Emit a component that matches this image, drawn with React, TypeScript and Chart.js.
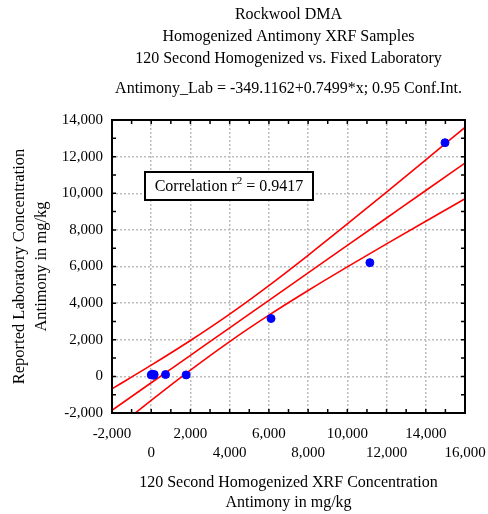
import React, { useEffect, useRef } from "react";
import { Chart, registerables } from "chart.js";

Chart.register(...registerables);

const titleLines = [
  "Rockwool DMA",
  "Homogenized Antimony XRF Samples",
  "120 Second Homogenized vs. Fixed Laboratory",
];
const subtitleText = "Antimony_Lab = -349.1162+0.7499*x; 0.95 Conf.Int.";
const xTitleLines = ["120 Second Homogenized XRF Concentration", "Antimony in mg/kg"];
const yTitleLines = ["Reported Laboratory Concentration", "Antimony in mg/kg"];
const correlationValue = "0.9417";

const sampleX = [0, 50, 120, 150, 730, 1780, 6110, 11150, 14980];
const sampleY = [80, 120, 60, 100, 100, 80, 3160, 6210, 12760];

const fitX = [-2000, 0, 2000, 4000, 6000, 8000, 10000, 12000, 14000, 16000];
const fitY = [-1849, -349, 1151, 2651, 4150, 5650, 7150, 8650, 10150, 11649];
const upperY = [-678, 611, 1959, 3401, 4958, 6610, 8321, 10065, 11827, 13599];
const lowerY = [-3020, -1309, 343, 1901, 3342, 4690, 5979, 7235, 8473, 9699];

const xTickValues = [-2000, 0, 2000, 4000, 6000, 8000, 10000, 12000, 14000, 16000];
const yTickValues = [-2000, 0, 2000, 4000, 6000, 8000, 10000, 12000, 14000];

const FONT = '"Liberation Serif", "Times New Roman", serif';
const FS = 15;
const TFS = 16;

const fmt = (v: number) => v.toLocaleString("en-US");

const decorPlugin = {
  id: "decor",
  afterDraw(chart: any) {
    const ctx = chart.ctx;
    const { left, right, top, bottom } = chart.chartArea;
    const xs = chart.scales.x;
    const ys = chart.scales.y;
    ctx.save();
    // border
    ctx.strokeStyle = "#000";
    ctx.lineWidth = 2;
    ctx.strokeRect(left, top, right - left, bottom - top);
    // inner ticks every 1000
    ctx.lineWidth = 1.5;
    ctx.beginPath();
    for (let v = -2000; v <= 16000; v += 1000) {
      const px = xs.getPixelForValue(v);
      ctx.moveTo(px, bottom);
      ctx.lineTo(px, bottom - 4);
      ctx.moveTo(px, top);
      ctx.lineTo(px, top + 4);
    }
    for (let v = -2000; v <= 14000; v += 1000) {
      const py = ys.getPixelForValue(v);
      ctx.moveTo(left, py);
      ctx.lineTo(left + 4, py);
      ctx.moveTo(right, py);
      ctx.lineTo(right - 4, py);
    }
    ctx.stroke();

    // titles
    ctx.fillStyle = "#000";
    ctx.font = `${TFS}px ${FONT}`;
    ctx.textAlign = "center";
    ctx.textBaseline = "middle";
    const cx = (left + right) / 2;
    const tY = [15, 37, 59];
    titleLines.forEach((t, i) => ctx.fillText(t, cx, tY[i]));
    ctx.fillText(subtitleText, cx, 89);

    // x title
    ctx.fillText(xTitleLines[0], cx, 483);
    ctx.fillText(xTitleLines[1], cx, 503);

    // y title
    ctx.font = `16.5px ${FONT}`;
    const cy = (top + bottom) / 2;
    ctx.save();
    ctx.translate(20, cy);
    ctx.rotate(-Math.PI / 2);
    ctx.fillText(yTitleLines[0], 0, 0);
    ctx.restore();
    ctx.save();
    ctx.translate(42, cy);
    ctx.rotate(-Math.PI / 2);
    ctx.fillText(yTitleLines[1], 0, 0);
    ctx.restore();

    // correlation box
    const bx = left + 33;
    const by = top + 52;
    const bw = 168;
    const bh = 28;
    ctx.fillStyle = "#fff";
    ctx.fillRect(bx, by, bw, bh);
    ctx.strokeStyle = "#000";
    ctx.lineWidth = 2;
    ctx.strokeRect(bx, by, bw, bh);
    ctx.fillStyle = "#000";
    ctx.textAlign = "left";
    const part1 = "Correlation r";
    const part3 = " = " + correlationValue;
    ctx.font = `${TFS}px ${FONT}`;
    const w1 = ctx.measureText(part1).width;
    ctx.font = `${11}px ${FONT}`;
    const w2 = ctx.measureText("2").width;
    ctx.font = `${TFS}px ${FONT}`;
    const w3 = ctx.measureText(part3).width;
    let tx = bx + (bw - (w1 + w2 + w3)) / 2;
    const ty = by + bh / 2 + 1;
    ctx.fillText(part1, tx, ty);
    tx += w1;
    ctx.font = `${11}px ${FONT}`;
    ctx.fillText("2", tx, ty - 6);
    tx += w2;
    ctx.font = `${TFS}px ${FONT}`;
    ctx.fillText(part3, tx, ty);
    ctx.restore();
  },
};

export default function App() {
  const ref = useRef<HTMLCanvasElement | null>(null);
  useEffect(() => {
    if (!ref.current) return;
    const lineDs = (ys: number[]) => ({
      type: "line" as const,
      data: fitX.map((x, i) => ({ x, y: ys[i] })),
      borderColor: "#ff0000",
      borderWidth: 1.6,
      pointRadius: 0,
      showLine: true,
      fill: false,
      cubicInterpolationMode: "monotone",
      order: 2,
    });
    const chart = new Chart(ref.current, {
      type: "scatter",
      data: {
        datasets: [
          {
            type: "scatter" as const,
            data: sampleX.map((x, i) => ({ x, y: sampleY[i] })),
            backgroundColor: "#0000ff",
            borderColor: "#0000ff",
            pointRadius: 4,
            order: 1,
          } as any,
          lineDs(upperY),
          lineDs(fitY),
          lineDs(lowerY),
        ],
      },
      options: {
        responsive: false,
        animation: false,
        devicePixelRatio: 1,
        layout: { padding: { left: 0, top: 120, right: 23, bottom: 0 } },
        plugins: {
          legend: { display: false },
          tooltip: { enabled: false },
          title: { display: false },
        },
        scales: {
          x: {
            type: "linear",
            min: -2000,
            max: 16000,
            afterBuildTicks: (s: any) => {
              s.ticks = xTickValues.map((v) => ({ value: v }));
            },
            afterFit: (s: any) => {
              s.height = 101;
              s.paddingLeft = 0;
              s.paddingRight = 0;
            },
            grid: {
              color: "#bdbdbd",
              lineWidth: 1.5,
              drawTicks: false,
            },
            border: { display: false, dash: [2, 2] },
            ticks: {
              padding: 12,
              color: "#000",
              maxRotation: 0,
              autoSkip: false,
              font: { family: FONT, size: FS, lineHeight: 1.25 },
              callback: (v: any) => {
                const idx = xTickValues.indexOf(v);
                return idx % 2 === 0 ? [fmt(v), ""] : ["", fmt(v)];
              },
            },
          },
          y: {
            type: "linear",
            min: -2000,
            max: 14000,
            afterBuildTicks: (s: any) => {
              s.ticks = yTickValues.map((v) => ({ value: v }));
            },
            afterFit: (s: any) => {
              s.width = 112;
              s.paddingTop = 0;
              s.paddingBottom = 0;
            },
            grid: {
              color: "#bdbdbd",
              lineWidth: 1.5,
              drawTicks: false,
            },
            border: { display: false, dash: [2, 2] },
            ticks: {
              padding: 9,
              color: "#000",
              autoSkip: false,
              font: { family: FONT, size: FS },
              callback: (v: any) => fmt(v),
            },
          },
        },
      } as any,
      plugins: [decorPlugin],
    });
    return () => chart.destroy();
  }, []);
  return (
    <div style={{ position: "absolute", left: 0, top: 0, width: 488, height: 514, background: "#fff" }}>
      <canvas ref={ref} width={488} height={514} />
    </div>
  );
}
